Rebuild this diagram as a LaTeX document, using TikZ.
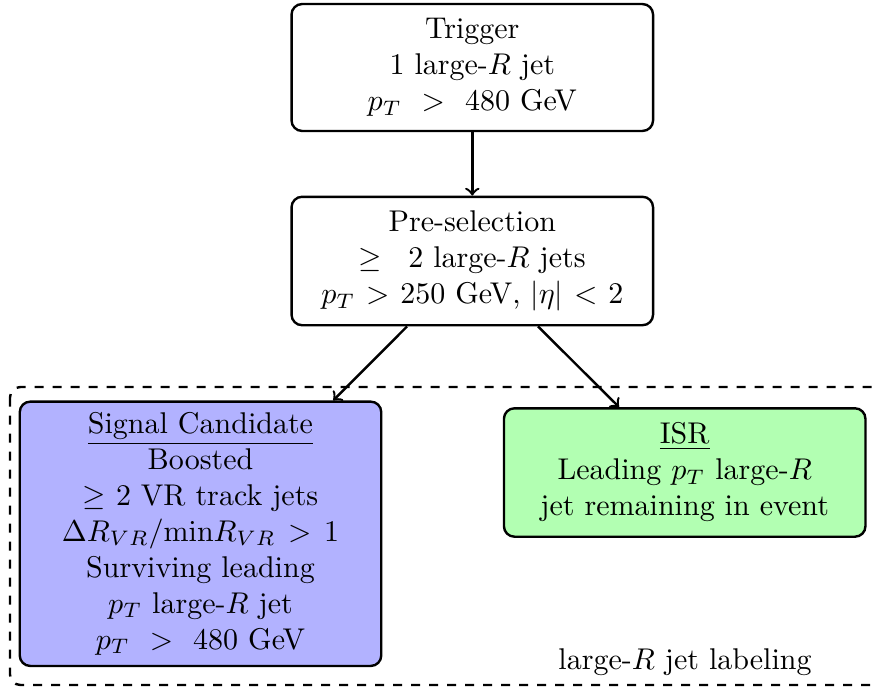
\documentclass[tikz,border=0pt]{standalone}
\usepackage{amsmath}
\begin{document}
\begin{tikzpicture}[x=0.33333pt,y=-0.33333pt,
  box/.style={draw,thick,rounded corners=3.5pt,align=center,text width=113pt,minimum width=120.5pt,inner sep=3.33pt},
  conn/.style={->,thick}]
\useasboundingbox (0,0) rectangle (875,687);
\node[box,minimum height=42.3pt] (trig) at (472.3,67.5) {Trigger\\1 large-$R$ jet\\$p_T$ ~$>$~ 480 GeV};
\node[box,minimum height=42.8pt] (pre) at (472.3,261) {Pre-selection\\$\geq\ 2$ large-$R$ jets\\$p_T > 250$ GeV, $|\eta| < 2$};
\node[box,fill=blue!30,minimum height=88.1pt] (sig) at (200.5,533.8) {\underline{Signal Candidate}\\Boosted\\$\geq$ 2 VR track jets\\$\Delta R_{VR}/\mathrm{min}R_{VR} > 1$\\Surviving leading\\$p_T$ large-$R$ jet\\$p_T$ ~$>$~ 480 GeV};
\node[box,fill=green!30,minimum height=42.8pt] (isr) at (684.7,472.5) {\underline{ISR}\\Leading $p_T$ large-$R$\\jet remaining in event};
\node (lab) at (685,662) {large-$R$ jet labeling};
\draw[thick,dashed,rounded corners=3.5pt] (10,387) rectangle (884,685);
\draw[conn] (trig) -- (pre);
\draw[conn] (pre) -- (sig);
\draw[conn] (pre) -- (isr);
\end{tikzpicture}
\end{document}
